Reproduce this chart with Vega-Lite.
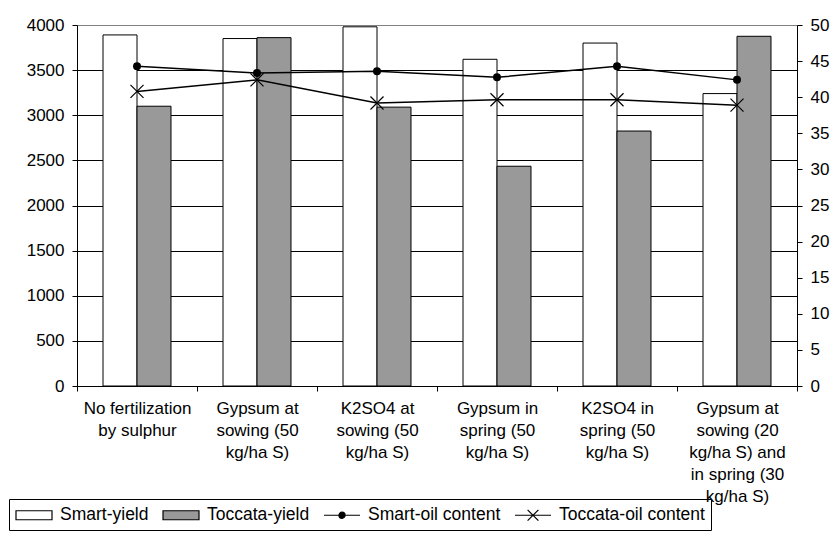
{
  "$schema": "https://vega.github.io/schema/vega-lite/v6.json",
  "width": 720,
  "height": 361,
  "autosize": {"type": "none"},
  "padding": {"left": 77, "top": 25, "right": 35, "bottom": 151},
  "background": "white",
  "config": {
    "view": {"stroke": null},
    "font": "Liberation Sans",
    "axis": {
      "labelFont": "Liberation Sans",
      "labelFontSize": 17,
      "labelColor": "black",
      "domainColor": "black",
      "tickColor": "black",
      "tickSize": 5,
      "domainWidth": 1,
      "tickWidth": 1,
      "title": null
    },
    "legend": {
      "labelFont": "Liberation Sans",
      "labelFontSize": 17.5,
      "labelColor": "black"
    }
  },
  "datasets": {
    "yield": [
      {"category": "No fertilization|by sulphur", "series": "Smart-yield", "value": 3890},
      {"category": "No fertilization|by sulphur", "series": "Toccata-yield", "value": 3100},
      {"category": "Gypsum at|sowing (50|kg/ha S)", "series": "Smart-yield", "value": 3850},
      {"category": "Gypsum at|sowing (50|kg/ha S)", "series": "Toccata-yield", "value": 3860},
      {"category": "K2SO4 at|sowing (50|kg/ha S)", "series": "Smart-yield", "value": 3980},
      {"category": "K2SO4 at|sowing (50|kg/ha S)", "series": "Toccata-yield", "value": 3090},
      {"category": "Gypsum in|spring (50|kg/ha S)", "series": "Smart-yield", "value": 3620},
      {"category": "Gypsum in|spring (50|kg/ha S)", "series": "Toccata-yield", "value": 2435},
      {"category": "K2SO4 in|spring (50|kg/ha S)", "series": "Smart-yield", "value": 3800},
      {"category": "K2SO4 in|spring (50|kg/ha S)", "series": "Toccata-yield", "value": 2825},
      {"category": "Gypsum at|sowing (20|kg/ha S) and|in spring (30|kg/ha S)", "series": "Smart-yield", "value": 3240},
      {"category": "Gypsum at|sowing (20|kg/ha S) and|in spring (30|kg/ha S)", "series": "Toccata-yield", "value": 3875}
    ],
    "oil": [
      {"category": "No fertilization|by sulphur", "series": "Smart-oil content", "oil": 44.3},
      {"category": "Gypsum at|sowing (50|kg/ha S)", "series": "Smart-oil content", "oil": 43.35},
      {"category": "K2SO4 at|sowing (50|kg/ha S)", "series": "Smart-oil content", "oil": 43.6},
      {"category": "Gypsum in|spring (50|kg/ha S)", "series": "Smart-oil content", "oil": 42.75},
      {"category": "K2SO4 in|spring (50|kg/ha S)", "series": "Smart-oil content", "oil": 44.3},
      {"category": "Gypsum at|sowing (20|kg/ha S) and|in spring (30|kg/ha S)", "series": "Smart-oil content", "oil": 42.4},
      {"category": "No fertilization|by sulphur", "series": "Toccata-oil content", "oil": 40.8},
      {"category": "Gypsum at|sowing (50|kg/ha S)", "series": "Toccata-oil content", "oil": 42.4},
      {"category": "K2SO4 at|sowing (50|kg/ha S)", "series": "Toccata-oil content", "oil": 39.2},
      {"category": "Gypsum in|spring (50|kg/ha S)", "series": "Toccata-oil content", "oil": 39.65},
      {"category": "K2SO4 in|spring (50|kg/ha S)", "series": "Toccata-oil content", "oil": 39.65},
      {"category": "Gypsum at|sowing (20|kg/ha S) and|in spring (30|kg/ha S)", "series": "Toccata-oil content", "oil": 38.9}
    ],
    "legend": [
      {"series": "Smart-yield"},
      {"series": "Toccata-yield"},
      {"series": "Smart-oil content"},
      {"series": "Toccata-oil content"}
    ]
  },
  "layer": [
    {
      "data": {"name": "yield"},
      "mark": {"type": "bar", "stroke": "black", "strokeWidth": 1},
      "encoding": {
        "x": {
          "field": "category", "type": "nominal",
          "scale": {
            "domain": ["No fertilization|by sulphur", "Gypsum at|sowing (50|kg/ha S)", "K2SO4 at|sowing (50|kg/ha S)", "Gypsum in|spring (50|kg/ha S)", "K2SO4 in|spring (50|kg/ha S)", "Gypsum at|sowing (20|kg/ha S) and|in spring (30|kg/ha S)"],
            "paddingInner": 0, "paddingOuter": 0
          },
          "axis": {
            "labelAngle": 0,
            "tickBand": "extent",
            "labelExpr": "split(datum.label, '|')",
            "labelLineHeight": 22,
            "labelPadding": 9,
            "labelLimit": 300,
            "labelOverlap": false,
            "labelFlush": false,
            "grid": false
          }
        },
        "xOffset": {
          "field": "series", "type": "nominal",
          "scale": {"domain": ["Smart-yield", "Toccata-yield"], "paddingInner": 0, "paddingOuter": 0.765}
        },
        "y": {
          "field": "value", "type": "quantitative",
          "scale": {"domain": [0, 4000], "nice": false},
          "axis": {
            "orient": "left",
            "format": "d",
            "values": [0, 500, 1000, 1500, 2000, 2500, 3000, 3500, 4000],
            "grid": true,
            "gridColor": {"condition": {"test": "datum.value === 4000", "value": "#808080"}, "value": "black"},
            "gridWidth": 1,
            "gridOpacity": 1,
            "labelPadding": 8
          }
        },
        "fill": {
          "field": "series", "type": "nominal",
          "scale": {
            "domain": ["Smart-yield", "Toccata-yield"],
            "range": ["#ffffff", "#999999"]
          },
          "legend": null
        }
      }
    },
    {
      "data": {"name": "oil"},
      "encoding": {
        "x": {
          "field": "category", "type": "nominal",
          "scale": {
            "domain": ["No fertilization|by sulphur", "Gypsum at|sowing (50|kg/ha S)", "K2SO4 at|sowing (50|kg/ha S)", "Gypsum in|spring (50|kg/ha S)", "K2SO4 in|spring (50|kg/ha S)", "Gypsum at|sowing (20|kg/ha S) and|in spring (30|kg/ha S)"],
            "paddingInner": 0, "paddingOuter": 0
          }
        },
        "y": {
          "field": "oil", "type": "quantitative",
          "scale": {"domain": [0, 50], "nice": false},
          "axis": {
            "orient": "right",
            "values": [0, 5, 10, 15, 20, 25, 30, 35, 40, 45, 50],
            "grid": false,
            "labelPadding": 8
          }
        }
      },
      "layer": [
        {
          "mark": {"type": "line", "color": "black", "strokeWidth": 1.5},
          "encoding": {"detail": {"field": "series"}}
        },
        {
          "transform": [{"filter": "datum.series === 'Smart-oil content'"}],
          "mark": {"type": "point", "shape": "circle", "filled": true, "color": "black", "size": 64, "opacity": 1}
        },
        {
          "transform": [{"filter": "datum.series === 'Toccata-oil content'"}],
          "mark": {"type": "point", "shape": "M-1,-1L1,1M-1,1L1,-1", "filled": false, "stroke": "black", "strokeWidth": 1.2, "size": 170, "opacity": 1}
        }
      ]
    },
    {
      "data": {"name": "legend"},
      "mark": {"type": "point", "filled": true, "stroke": "black", "strokeWidth": 1, "opacity": 0},
      "encoding": {
        "color": {
          "field": "series", "type": "nominal",
          "scale": {
            "domain": ["Smart-yield", "Toccata-yield", "Smart-oil content", "Toccata-oil content"],
            "range": ["#ffffff", "#999999", "#000000", "#ffffff"]
          },
          "legend": {
            "title": null,
            "orient": "none",
            "direction": "horizontal",
            "legendX": -68,
            "legendY": 474,
            "strokeColor": "black",
            "padding": 6,
            "columnPadding": 11,
            "labelOffset": 25,
            "symbolSize": 324,
            "symbolOpacity": 1,
            "symbolStrokeColor": "black",
            "symbolStrokeWidth": 1.2,
            "labelFontSize": 17.5,
            "encode": {
              "symbols": {
                "update": {
                  "stroke": {"value": "black"},
                  "strokeWidth": {"value": 1.2},
                  "opacity": {"value": 1}
                }
              }
            }
          }
        },
        "shape": {
          "field": "series", "type": "nominal",
          "scale": {
            "domain": ["Smart-yield", "Toccata-yield", "Smart-oil content", "Toccata-oil content"],
            "range": [
              "M-1,-0.5H3V0.5H-1Z",
              "M-1,-0.5H3V0.5H-1Z",
              "M-1,0H3M1.34,0A0.34,0.34 0 1,1 0.66,0A0.34,0.34 0 1,1 1.34,0Z",
              "M-1,0H3M0.4,-0.6L1.6,0.6M0.4,0.6L1.6,-0.6"
            ]
          },
          "legend": {
            "title": null,
            "orient": "none",
            "direction": "horizontal",
            "legendX": -68,
            "legendY": 474,
            "strokeColor": "black",
            "padding": 6,
            "columnPadding": 11,
            "labelOffset": 25,
            "symbolSize": 324,
            "symbolOpacity": 1,
            "symbolStrokeColor": "black",
            "symbolStrokeWidth": 1.2,
            "labelFontSize": 17.5,
            "encode": {
              "symbols": {
                "update": {
                  "stroke": {"value": "black"},
                  "strokeWidth": {"value": 1.2},
                  "opacity": {"value": 1}
                }
              }
            }
          }
        }
      }
    }
  ],
  "resolve": {"scale": {"y": "independent"}}
}
